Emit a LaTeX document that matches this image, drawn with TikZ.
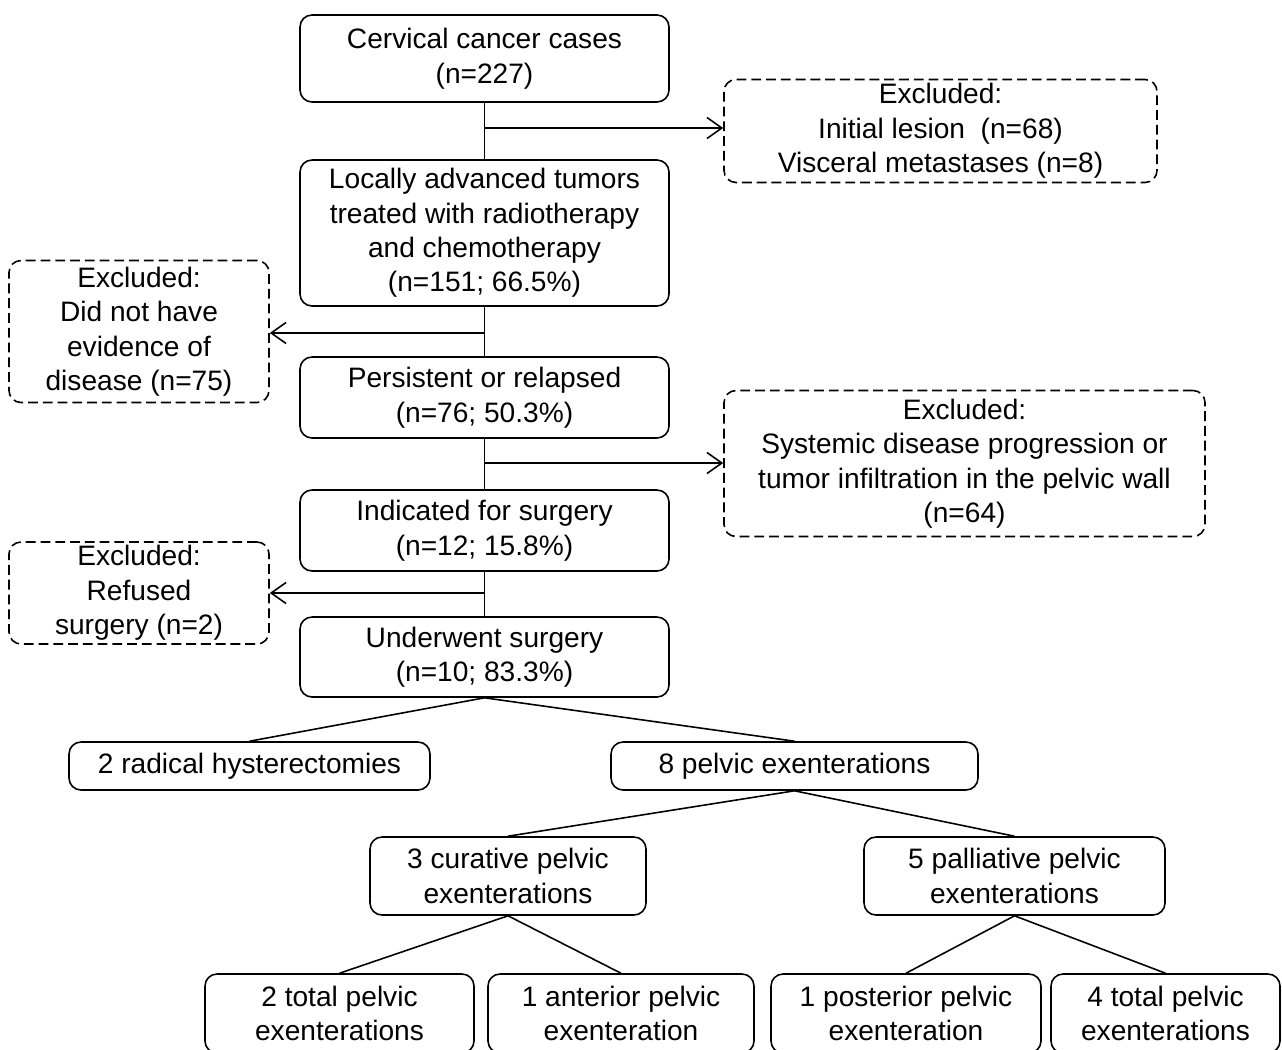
\documentclass[tikz,border=0pt]{standalone}
\usepackage{fontspec}
\setmainfont{Liberation Sans}
\usetikzlibrary{arrows.meta}
\tikzset{
  box/.style={draw, rounded corners=0.24cm, line width=0.9pt, align=center, inner sep=0pt,
    font=\fontsize{16}{19.6}\selectfont},
  exbox/.style={box, dash pattern=on 5.6pt off 2.8pt},
  link/.style={line width=0.9pt},
  arr/.style={line width=0.9pt, -{Straight Barb[length=8.5pt,width=12pt,line width=0.9pt]}}
}
\begin{document}
\begin{tikzpicture}
\useasboundingbox (0,0) rectangle (25.64,-20.98);
\clip (0,0) rectangle (25.64,-20.98);
% main column
\node[box, minimum width=7.38cm, minimum height=1.74cm] (A) at (9.69,-1.17) {Cervical cancer cases\\(n=227)};
\node[box, minimum width=7.38cm, minimum height=2.92cm] (B) at (9.69,-4.66) {Locally advanced tumors\\treated with radiotherapy\\and chemotherapy\\(n=151; 66.5\%)};
\node[box, minimum width=7.38cm, minimum height=1.62cm] (C) at (9.69,-7.95) {Persistent or relapsed\\(n=76; 50.3\%)};
\node[box, minimum width=7.38cm, minimum height=1.62cm] (D) at (9.69,-10.61) {Indicated for surgery\\(n=12; 15.8\%)};
\node[box, minimum width=7.38cm, minimum height=1.60cm] (E) at (9.69,-13.14) {Underwent surgery\\(n=10; 83.3\%)};
% excluded boxes
\node[exbox, minimum width=8.66cm, minimum height=2.06cm] (X1) at (18.81,-2.62) {Excluded:\\Initial lesion\ \ (n=68)\\Visceral metastases (n=8)};
\node[exbox, minimum width=5.2cm, minimum height=2.84cm] (X2) at (2.78,-6.63) {Excluded:\\Did not have\\evidence of\\disease (n=75)};
\node[exbox, minimum width=9.62cm, minimum height=2.92cm] (X3) at (19.29,-9.27) {Excluded:\\Systemic disease progression or\\tumor infiltration in the pelvic wall\\(n=64)};
\node[exbox, minimum width=5.2cm, minimum height=2.04cm] (X4) at (2.78,-11.86) {Excluded:\\Refused\\surgery (n=2)};
% tree
\node[box, minimum width=7.22cm, minimum height=0.96cm] (F) at (4.99,-15.32) {2 radical hysterectomies};
\node[box, minimum width=7.34cm, minimum height=0.96cm] (G) at (15.89,-15.32) {8 pelvic exenterations};
\node[box, minimum width=5.52cm, minimum height=1.56cm] (H) at (10.16,-17.52) {3 curative pelvic\\exenterations};
\node[box, minimum width=6.02cm, minimum height=1.56cm] (I) at (20.29,-17.52) {5 palliative pelvic\\exenterations};
\node[box, minimum width=5.38cm, minimum height=1.58cm] (J) at (6.79,-20.27) {2 total pelvic\\exenterations};
\node[box, minimum width=5.32cm, minimum height=1.58cm] (K) at (12.42,-20.27) {1 anterior pelvic\\exenteration};
\node[box, minimum width=5.40cm, minimum height=1.58cm] (L) at (18.12,-20.27) {1 posterior pelvic\\exenteration};
\node[box, minimum width=4.58cm, minimum height=1.58cm] (M) at (23.31,-20.27) {4 total pelvic\\exenterations};
% main vertical connectors
\draw[link] (A.south) -- (B.north);
\draw[link] (B.south) -- (C.north);
\draw[link] (C.south) -- (D.north);
\draw[link] (D.south) -- (E.north);
% branch points
\coordinate (b1) at (9.69,-2.56);
\coordinate (b2) at (9.69,-6.66);
\coordinate (b3) at (9.69,-9.26);
\coordinate (b4) at (9.69,-11.86);
\draw[arr] (b1) -- (b1 -| X1.west);
\draw[arr] (b2) -- (b2 -| X2.east);
\draw[arr] (b3) -- (b3 -| X3.west);
\draw[arr] (b4) -- (b4 -| X4.east);
% tree connectors
\draw[link] (E.south) -- (F.north);
\draw[link] (E.south) -- (G.north);
\draw[link] (G.south) -- (H.north);
\draw[link] (G.south) -- (I.north);
\draw[link] (H.south) -- (J.north);
\draw[link] (H.south) -- (K.north);
\draw[link] (I.south) -- (L.north);
\draw[link] (I.south) -- (M.north);
\end{tikzpicture}
\end{document}
